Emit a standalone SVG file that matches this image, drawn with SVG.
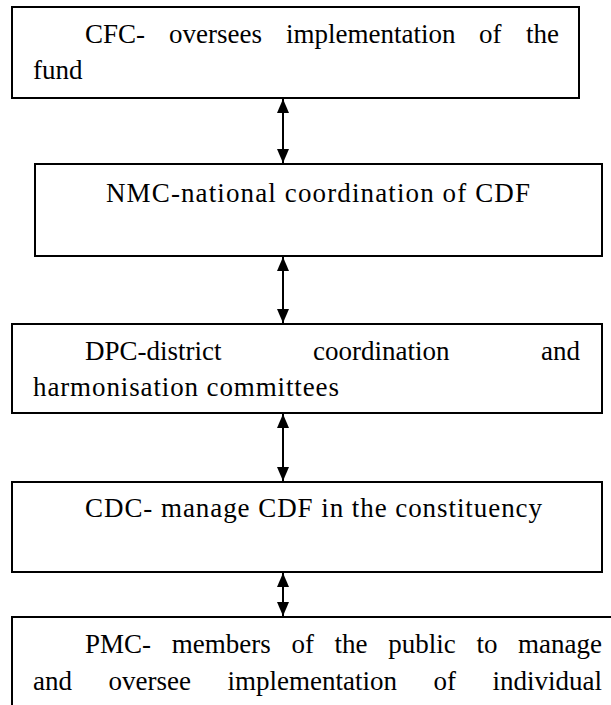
<svg xmlns="http://www.w3.org/2000/svg" width="611" height="705" viewBox="0 0 611 705">
<defs>
<style>
.box{fill:#fff;stroke:#000;stroke-width:2}
.t{font-family:"Liberation Serif","Times New Roman",serif;font-size:27px;fill:#000}
.e{text-anchor:end}
.c{stroke:#000;stroke-width:2;fill:none;marker-start:url(#ah);marker-end:url(#ah)}
</style>
<marker id="ah" viewBox="0 0 14 12" refX="14" refY="6" markerWidth="14" markerHeight="12" markerUnits="userSpaceOnUse" orient="auto-start-reverse">
<path d="M0,0 L14,6 L0,12 Z" fill="#000"/>
</marker>
</defs>
<rect width="611" height="705" fill="#fff"/>
<g id="connectors">
<line class="c" x1="283" y1="99" x2="283" y2="163"/>
<line class="c" x1="283" y1="257" x2="283" y2="323"/>
<line class="c" x1="283" y1="414" x2="283" y2="481"/>
<line class="c" x1="283" y1="573" x2="283" y2="616"/>
</g>
<g id="cfc">
<rect class="box" x="12" y="7" width="567" height="91"/>
<text class="t" y="43"><tspan x="85">CFC-</tspan><tspan x="169">oversees</tspan><tspan x="286">implementation</tspan><tspan x="479">of</tspan></text>
<text class="t e" x="559" y="43">the</text>
<text class="t" x="33" y="79">fund</text>
</g>
<g id="nmc">
<rect class="box" x="35" y="164" width="567" height="92"/>
<text class="t" x="106" y="202" textLength="424" lengthAdjust="spacing">NMC-national coordination of CDF</text>
</g>
<g id="dpc">
<rect class="box" x="12" y="324" width="590" height="89"/>
<text class="t" y="360"><tspan x="85">DPC-district</tspan><tspan x="313">coordination</tspan></text>
<text class="t e" x="580" y="360">and</text>
<text class="t" x="33" y="396" textLength="306" lengthAdjust="spacing">harmonisation committees</text>
</g>
<g id="cdc">
<rect class="box" x="12" y="482" width="590" height="90"/>
<text class="t" x="85" y="517" textLength="457" lengthAdjust="spacing">CDC- manage CDF in the constituency</text>
</g>
<g id="pmc">
<rect class="box" x="12" y="617" width="620" height="110"/>
<text class="t" y="653"><tspan x="85">PMC-</tspan><tspan x="171.7">members</tspan><tspan x="291.4">of</tspan><tspan x="334.6">the</tspan><tspan x="388.3">public</tspan><tspan x="476.5">to</tspan></text>
<text class="t e" x="602" y="653">manage</text>
<text class="t" y="690"><tspan x="33">and</tspan><tspan x="108.5">oversee</tspan><tspan x="227.5">implementation</tspan><tspan x="433.5">of</tspan></text>
<text class="t e" x="602" y="690">individual</text>
</g>
</svg>
